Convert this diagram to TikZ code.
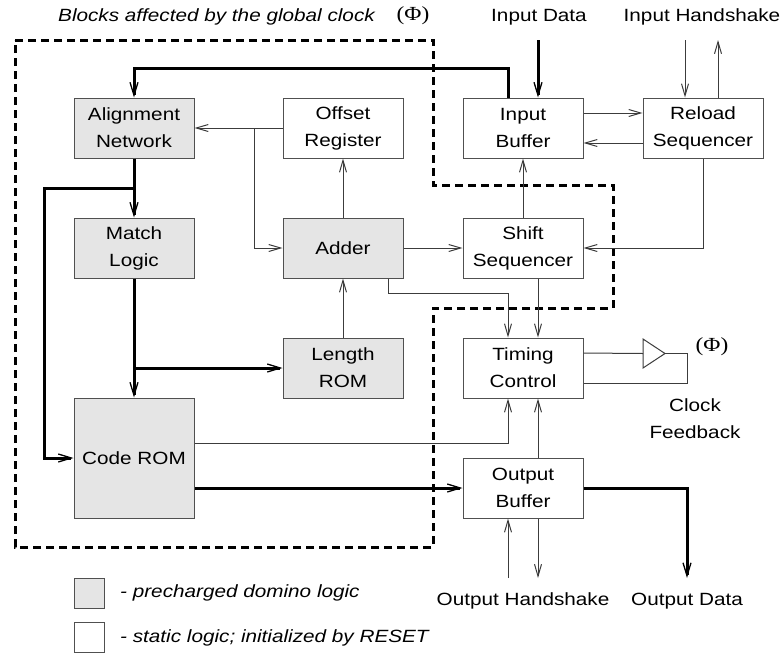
\documentclass[tikz,border=0pt]{standalone}
\usepackage{fontspec}
\setmainfont{Liberation Sans}[FakeStretch=1.17]
\newfontfamily\phifont{Liberation Serif}[FakeStretch=1.17]
\usetikzlibrary{arrows.meta,calc}
\definecolor{dominogray}{HTML}{E5E5E5}
\definecolor{linegray}{HTML}{3C3C3C}
\definecolor{boxline}{HTML}{505050}
\begin{document}
\begin{tikzpicture}[x=1pt,y=-1pt,
  every node/.style={font=\fontsize{17.7}{27}\selectfont},
  blk/.style={draw=boxline, line width=1pt, minimum width=120pt, minimum height=60pt, inner sep=0pt, align=center},
  dom/.style={blk, fill=dominogray},
  sta/.style={blk, fill=white},
  arr/.style={draw=linegray, line width=1pt, -{Straight Barb[length=12pt,width=7pt,line width=1pt]}},
  wire/.style={draw=linegray, line width=1pt},
  thickarr/.style={draw=black, line width=3pt, -{Straight Barb[length=13pt,width=8pt,line width=1.3pt]}},
  thickwire/.style={draw=black, line width=3pt},
  boundary/.style={draw=black, line width=3pt, dash pattern=on 8pt off 5pt},
  lbl/.style={inner sep=0pt},
  phi/.style={inner sep=0pt, font=\phifont\fontsize{20}{24}\selectfont}
]
\useasboundingbox (0,0) rectangle (783,653);

% boundary of clocked blocks
\draw[boundary] (15,40) -- (433,40) -- (433,185) -- (613,185) -- (613,308) -- (433,308) -- (433,547) -- (15,547) -- cycle;

% title
\node[lbl, anchor=west] (title) at (58,17) {\itshape Blocks affected by the global clock};
\node[phi] (phitop) at (413,16) {(Φ)};

% blocks
\node[dom] (align) at (134,128) {Alignment\\Network};
\node[sta] (offset) at (343,128) {Offset\\Register};
\node[dom] (match) at (134,248) {Match\\Logic};
\node[dom] (adder) at (343,248) {Adder};
\node[dom] (length) at (343,368) {Length\\ROM};
\node[dom, minimum height=120pt] (code) at (134,458) {Code ROM};
\node[sta] (inbuf) at (523,128) {Input\\Buffer};
\node[sta] (reload) at (703,128) {Reload\\Sequencer};
\node[sta] (shift) at (523,248) {Shift\\Sequencer};
\node[sta] (timing) at (523,368) {Timing\\Control};
\node[sta] (outbuf) at (523,488) {Output\\Buffer};

% external labels
\node[lbl] (indatal) at (539,17) {Input Data};
\node[lbl] (inhsl) at (702,17) {Input Handshake};
\node[lbl] (outhsl) at (523,601) {Output Handshake};
\node[lbl] (outdatal) at (687,601) {Output Data};
\node[lbl, align=center] (clkfb) at (695,419) {Clock\\Feedback};
\node[phi] (phiclk) at (712,347) {(Φ)};

% free ends
\coordinate (indata) at (538,40);
\coordinate (ihs1) at (685,40);
\coordinate (ihs2) at (718,40);
\coordinate (ohs1) at (508,578);
\coordinate (ohs2) at (538,578);
\coordinate (odata) at (687,578);
\coordinate (br1) at (254,128);
\coordinate (br2) at (134,188);
\coordinate (br3) at (134,368);
\coordinate (lbus) at (44,188);
\coordinate (bufin) at (643,353.5);
\coordinate (bufout) at (665,353.5);
\coordinate (fbc) at (687,353.5);

% clock buffer triangle
\draw[wire, fill=white] (643,339) -- (bufout) -- (643,368) -- cycle;

% input side
\draw[thickarr] (indata) -- (indata |- inbuf.north);
\draw[arr] (ihs1) -- (ihs1 |- reload.north);
\draw[arr] (ihs2 |- reload.north) -- (ihs2);
\draw[arr] ([yshift=15pt]inbuf.east) -- ([yshift=15pt]reload.west);
\draw[arr] ([yshift=-15pt]reload.west) -- ([yshift=-15pt]inbuf.east);
\draw[thickarr] ([xshift=-15pt]inbuf.north) -- ++(0,-29) -| (align.north);

% datapath
\draw[arr] (offset.west) -- (align.east);
\draw[arr] (br1) |- (adder.west);
\draw[arr] (adder.north) -- (offset.south);
\draw[thickarr] (align.south) -- (match.north);
\draw[thickarr] (br2) -- (lbus) |- (code.west);
\draw[thickarr] (match.south) -- (code.north);
\draw[thickarr] (br3) -- (length.west);
\draw[arr] (length.north) -- (adder.south);
\draw[arr] (adder.east) -- (shift.west);
\draw[arr] ([xshift=45pt]adder.south) -- ++(0,15) -| ([xshift=-15pt]timing.north);
\draw[arr] (shift.north) -- (inbuf.south);
\draw[arr] (reload.south) |- (shift.east);
\draw[arr] ([xshift=15pt]shift.south) -- ([xshift=15pt]timing.north);

% clock feedback
\draw[wire] ([yshift=15pt]timing.east) -- (bufin);
\draw[wire] (bufout) -- (fbc) |- ([yshift=-15pt]timing.east);

% code rom outputs
\draw[arr] ([yshift=15pt]code.east) -| ([xshift=-15pt]timing.south);
\draw[thickarr] (code.east |- outbuf.west) -- (outbuf.west);
\draw[arr] ([xshift=15pt]outbuf.north) -- ([xshift=15pt]timing.south);

% output side
\draw[arr] (ohs1) -- (ohs1 |- outbuf.south);
\draw[arr] (ohs2 |- outbuf.south) -- (ohs2);
\draw[thickarr] (outbuf.east) -| (odata);

% legend
\node[draw=boxline, line width=1pt, fill=dominogray, minimum width=30pt, minimum height=30pt, inner sep=0pt] (leg1) at (89,593) {};
\node[draw=boxline, line width=1pt, fill=white, minimum width=30pt, minimum height=30pt, inner sep=0pt] (leg2) at (89,637.5) {};
\node[lbl, anchor=west] (leg1t) at (120,593) {\itshape - precharged domino logic};
\node[lbl, anchor=west] (leg2t) at (120,638) {\itshape - static logic; initialized by RESET};
\end{tikzpicture}
\end{document}
